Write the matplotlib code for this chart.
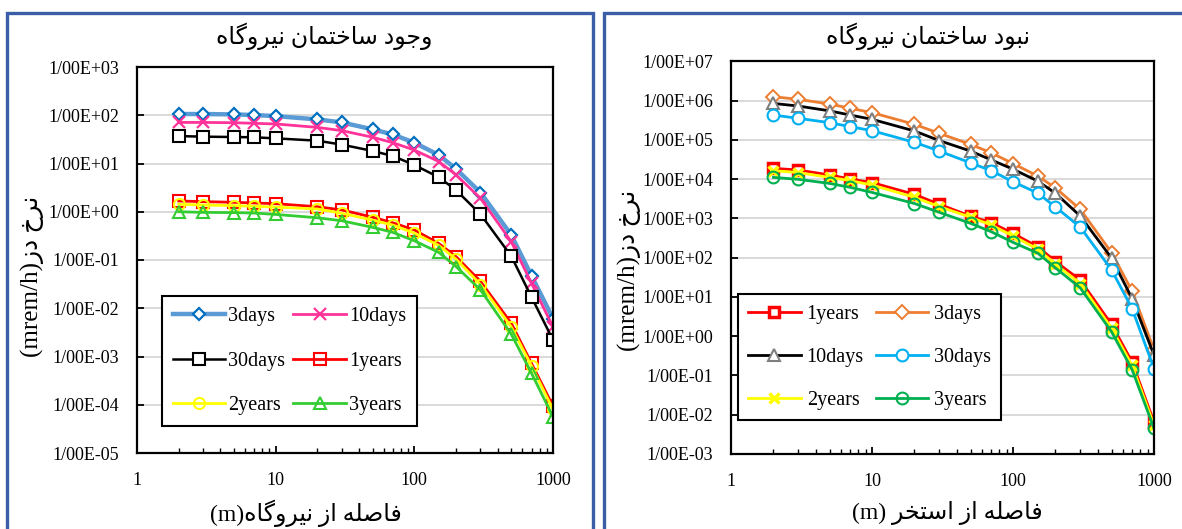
import math
import matplotlib
matplotlib.use('Agg')
import matplotlib.pyplot as plt
from matplotlib.patches import Rectangle
from matplotlib.ticker import FuncFormatter, LogLocator, NullFormatter, FixedLocator

# ---------------- data ----------------
distance = [2, 3, 5, 7, 10, 20, 30, 50, 70, 100, 150, 200, 300, 500, 700, 1000]

# left panel (with plant building)
L_3days = [106, 106, 104, 101, 96, 82, 71, 51, 40, 27, 15, 7.7, 2.5, 0.33, 0.047, 0.0061]
L_10days = [71, 71, 70, 68, 66, 56, 48, 35, 27, 19, 11, 5.8, 1.9, 0.24, 0.033, 0.0041]
L_30days = [37, 36, 35.4, 34.9, 33.2, 29.7, 24.6, 18.2, 14.3, 9.3, 5.2, 2.8, 0.89, 0.12, 0.017, 0.0022]
L_1years = [1.67, 1.62, 1.57, 1.52, 1.47, 1.27, 1.09, 0.77, 0.59, 0.42, 0.22, 0.117, 0.036, 0.0049, 0.00072, 0.000094]
L_2years = [1.43, 1.38, 1.34, 1.30, 1.25, 1.14, 0.93, 0.67, 0.53, 0.36, 0.20, 0.104, 0.031, 0.0041, 0.00064, 0.00008]
L_3years = [1.0, 0.97, 0.96, 0.94, 0.88, 0.75, 0.65, 0.475, 0.374, 0.25, 0.144, 0.073, 0.024, 0.0029, 0.00045, 0.000056]

# right panel (without plant building)
R_1years = [1.89e4, 1.71e4, 1.28e4, 1.01e4, 8.2e3, 4.1e3, 2.29e3, 1.15e3, 780, 417, 190, 80, 27, 2.0, 0.22, 0.0065]
R_3days = [1.26e6, 1.08e6, 8.2e5, 6.4e5, 4.95e5, 2.5e5, 1.47e5, 7.7e4, 4.7e4, 2.5e4, 1.2e4, 6.0e3, 1.7e3, 135, 14, 0.45]
R_10days = [8.5e5, 7.3e5, 5.5e5, 4.3e5, 3.35e5, 1.69e5, 9.6e4, 5.2e4, 3.1e4, 1.8e4, 8.9e3, 4.4e3, 1.15e3, 98, 9.0, 0.33]
R_30days = [4.3e5, 3.55e5, 2.75e5, 2.18e5, 1.72e5, 8.7e4, 5.2e4, 2.6e4, 1.65e4, 8.6e3, 4.4e3, 1.96e3, 600, 49, 5.0, 0.15]
R_2years = [1.65e4, 1.47e4, 1.11e4, 9.2e3, 7.1e3, 3.45e3, 2.0e3, 1.07e3, 680, 357, 165, 68, 22, 1.6, 0.18, 0.0055]
R_3years = [1.11e4, 9.9e3, 7.8e3, 6.2e3, 4.6e3, 2.4e3, 1.43e3, 750, 460, 246, 130, 55, 17, 1.3, 0.14, 0.0045]

x_ticks = [1, 10, 100, 1000]

title_left = "وجود ساختمان نیروگاه"
title_right = "نبود ساختمان نیروگاه"
xlabel_left = "فاصله از نیروگاه"
xlabel_right = "فاصله از استخر"
ylabel_txt = "نرخ دز"

# ---------------- simple Persian shaping (presentation forms) ----------------
FORMS = {
    'ا': ('\uFE8D', '\uFE8E', None, None),
    'ب': ('\uFE8F', '\uFE90', '\uFE91', '\uFE92'),
    'ت': ('\uFE95', '\uFE96', '\uFE97', '\uFE98'),
    'ج': ('\uFE9D', '\uFE9E', '\uFE9F', '\uFEA0'),
    'خ': ('\uFEA5', '\uFEA6', '\uFEA7', '\uFEA8'),
    'د': ('\uFEA9', '\uFEAA', None, None),
    'ر': ('\uFEAD', '\uFEAE', None, None),
    'ز': ('\uFEAF', '\uFEB0', None, None),
    'س': ('\uFEB1', '\uFEB2', '\uFEB3', '\uFEB4'),
    'ص': ('\uFEB9', '\uFEBA', '\uFEBB', '\uFEBC'),
    'ف': ('\uFED1', '\uFED2', '\uFED3', '\uFED4'),
    'ل': ('\uFEDD', '\uFEDE', '\uFEDF', '\uFEE0'),
    'م': ('\uFEE1', '\uFEE2', '\uFEE3', '\uFEE4'),
    'ن': ('\uFEE5', '\uFEE6', '\uFEE7', '\uFEE8'),
    'ه': ('\uFEE9', '\uFEEA', '\uFEEB', '\uFEEC'),
    'و': ('\uFEED', '\uFEEE', None, None),
    'ی': ('\uFBFC', '\uFBFD', '\uFBFE', '\uFBFF'),
    'گ': ('\uFB92', '\uFB93', '\uFB94', '\uFB95'),
}


def shape(s):
    out = []
    for i, c in enumerate(s):
        f = FORMS.get(c)
        if f is None:
            out.append(c)
            continue
        prev = s[i - 1] if i > 0 else ''
        nxt = s[i + 1] if i + 1 < len(s) else ''
        jp = prev in FORMS and FORMS[prev][2] is not None
        jn = f[2] is not None and nxt in FORMS
        if jp and jn:
            out.append(f[3])
        elif jp:
            out.append(f[1])
        elif jn:
            out.append(f[2])
        else:
            out.append(f[0])
    return ''.join(out)


def rtl(s):
    return shape(s)[::-1]


FAM = ['Liberation Serif', 'DejaVu Sans']
plt.rcParams['font.family'] = FAM
plt.rcParams['axes.unicode_minus'] = False

W, H = 1182, 529
fig = plt.figure(figsize=(W / 100, H / 100), dpi=100)


def fx(px):
    return px / W


def fy(py):
    return 1 - py / H


ax1 = fig.add_axes([fx(137), fy(453), fx(553) - fx(137), fy(67) - fy(453)])
ax2 = fig.add_axes([fx(731), fy(454), fx(1154) - fx(731), fy(61.4) - fy(454)])


def fmt_y(v, pos):
    e = int(round(math.log10(v)))
    return "1/00E%+03d" % e


def style_axes(ax, ymin, ymax):
    ax.set_xscale('log')
    ax.set_yscale('log')
    ax.set_xlim(1, 1000)
    ax.set_ylim(ymin, ymax)
    ax.xaxis.set_major_locator(FixedLocator(x_ticks))
    ax.xaxis.set_major_formatter(FuncFormatter(lambda v, p: "%d" % v))
    ax.xaxis.set_minor_locator(LogLocator(base=10, subs=range(2, 10)))
    ax.xaxis.set_minor_formatter(NullFormatter())
    ax.yaxis.set_major_locator(LogLocator(base=10, numticks=20))
    ax.yaxis.set_major_formatter(FuncFormatter(fmt_y))
    ax.yaxis.set_minor_locator(FixedLocator([]))
    ax.grid(True, axis='y', which='major', color='#D9D9D9', lw=1.4)
    ax.set_axisbelow(True)
    for s in ax.spines.values():
        s.set_linewidth(1.6)
        s.set_color('black')
    ax.tick_params(axis='y', which='major', direction='in', length=5, width=1.3,
                   labelsize=13, pad=13)
    ax.tick_params(axis='x', which='major', direction='in', length=5, width=1.3,
                   labelsize=13, pad=14)
    ax.tick_params(axis='x', which='minor', direction='in', length=3.5, width=1.0)


style_axes(ax1, 1e-5, 1e3)
style_axes(ax2, 1e-3, 1e7)

# left panel series
h_3d, = ax1.plot(distance, L_3days, color='#5B9BD5', lw=3.2, marker='D', ms=6.5,
                 mfc='white', mec='#0070C0', mew=1.6, label='3days')
h_10d, = ax1.plot(distance, L_10days, color='#FF3399', lw=2.0, marker='x', ms=8,
                  mec='#FF3399', mew=1.6, label='10days')
h_30d, = ax1.plot(distance, L_30days, color='black', lw=1.8, marker='s', ms=8.5,
                  mfc='white', mec='black', mew=1.5, label='30days')
h_1y, = ax1.plot(distance, L_1years, color='#FF0000', lw=2.0, marker='s', ms=8.5,
                 mfc='none', mec='#FF0000', mew=1.5, label='1years')
h_2y, = ax1.plot(distance, L_2years, color='#FFFF00', lw=2.0, marker='o', ms=8,
                 mfc='none', mec='#FFFF00', mew=1.5, label='2years')
h_3y, = ax1.plot(distance, L_3years, color='#33CC33', lw=2.0, marker='^', ms=8,
                 mfc='none', mec='#33CC33', mew=1.5, label='3years')

leg1 = ax1.legend([h_3d, h_30d, h_2y, h_10d, h_1y, h_3y],
                  ['3days', '30days', '2years', '10days', '1years', '3years'],
                  ncol=2, loc='lower left', bbox_to_anchor=(0.06, 0.07),
                  borderaxespad=0, fontsize=14.5, frameon=True, fancybox=False,
                  edgecolor='black', framealpha=1, handlelength=2.6,
                  labelspacing=1.25, columnspacing=0.4, handletextpad=0.15,
                  borderpad=0.55)
leg1.get_frame().set_linewidth(1.5)

# right panel series
r_1y, = ax2.plot(distance, R_1years, color='#FF0000', lw=2.0, marker='s', ms=7,
                 mfc='white', mec='#FF0000', mew=2.5, label='1years')
r_3d, = ax2.plot(distance, R_3days, color='#ED7D31', lw=2.0, marker='D', ms=7,
                 mfc='white', mec='#ED7D31', mew=1.4, label='3days')
r_10d, = ax2.plot(distance, R_10days, color='black', lw=2.0, marker='^', ms=8,
                  mfc='white', mec='#7F7F7F', mew=1.5, label='10days')
r_30d, = ax2.plot(distance, R_30days, color='#00B0F0', lw=2.0, marker='o', ms=8.5,
                  mfc='white', mec='#00B0F0', mew=1.5, label='30days')
r_2y, = ax2.plot(distance, R_2years, color='#FFFF00', lw=2.0, marker='x', ms=7,
                 mec='#FFFF00', mew=2.5, label='2years')
r_3y, = ax2.plot(distance, R_3years, color='#00B050', lw=2.0, marker='o', ms=8.5,
                 mfc='none', mec='#00B050', mew=1.5, label='3years')

leg2 = ax2.legend([r_1y, r_10d, r_2y, r_3d, r_30d, r_3y],
                  ['1years', '10days', '2years', '3days', '30days', '3years'],
                  ncol=2, loc='lower left', bbox_to_anchor=(0.017, 0.086),
                  borderaxespad=0, fontsize=14.5, frameon=True, fancybox=False,
                  edgecolor='black', framealpha=1, handlelength=2.6,
                  labelspacing=1.2, columnspacing=0.6, handletextpad=0.3,
                  borderpad=0.5)
leg2.get_frame().set_linewidth(1.5)

# panel frames
frame_col = '#3A5FA8'
fig.add_artist(Rectangle((fx(7), fy(560)), fx(593) - fx(7), fy(13) - fy(560),
                         transform=fig.transFigure, fill=False, ec=frame_col, lw=2.4))
fig.add_artist(Rectangle((fx(604), fy(560)), fx(1200) - fx(604), fy(13) - fy(560),
                         transform=fig.transFigure, fill=False, ec=frame_col, lw=2.4))

# titles and labels
fig.text(fx(324), fy(36), rtl(title_left), ha='center', va='center', fontsize=17,
         family=FAM)
fig.text(fx(928), fy(36), rtl(title_right), ha='center', va='center', fontsize=17,
         family=FAM)
fig.text(fx(306), fy(513), "(m)" + rtl(xlabel_left), ha='center', va='center',
         fontsize=17, family=FAM)
fig.text(fx(947), fy(513), "(m) " + rtl(xlabel_right), ha='center', va='center',
         fontsize=17, family=FAM)
fig.text(fx(32), fy(276), "(mrem/h)" + rtl(ylabel_txt), ha='center', va='center',
         rotation=90, fontsize=18, family=FAM)
fig.text(fx(629), fy(270), "(mrem/h)" + rtl(ylabel_txt), ha='center', va='center',
         rotation=90, fontsize=18, family=FAM)

fig.savefig('out.png', dpi=100)
